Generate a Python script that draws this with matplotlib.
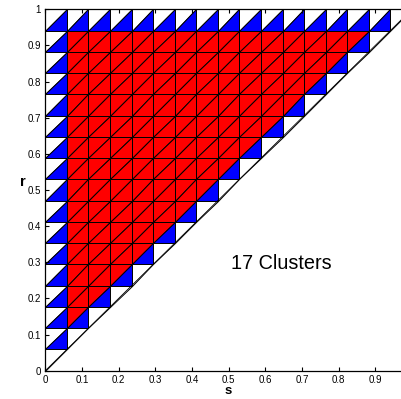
import numpy as np
import matplotlib.pyplot as plt
from matplotlib.collections import PolyCollection

plt.rcParams['font.family'] = ['Liberation Sans', 'DejaVu Sans']

n_cells = 17
# triangle colours per grid row, top row (r near 1) first.
# each word is one square cell: upper-left triangle, lower-right triangle;
# the last word sits on the diagonal r = s and only has its upper-left triangle
rows = [
    "WB WB WB WB WB WB WB WB WB WB WB WB WB WB WB WB W",
    "WB RR RR RR RR RR RR RR RR RR RR RR RR RR RB W",
    "WB RR RR RR RR RR RR RR RR RR RR RR RR RB W",
    "WB RR RR RR RR RR RR RR RR RR RR RR RB W",
    "WB RR RR RR RR RR RR RR RR RR RR RB W",
    "WB RR RR RR RR RR RR RR RR RR RB W",
    "WB RR RR RR RR RR RR RR RR RB W",
    "WB RR RR RR RR RR RR RR RB W",
    "WB RR RR RR RR RR RR RB W",
    "WB RR RR RR RR RR RB W",
    "WB RR RR RR RR RB W",
    "WB RR RR RR RB W",
    "WB RR RR RB W",
    "WB RR RB W",
    "WB RB W",
    "WB W",
    "W",
]
palette = {'W': 'white', 'B': '#0000ff', 'R': '#ff0000'}
xticks = [0, 0.1, 0.2, 0.3, 0.4, 0.5, 0.6, 0.7, 0.8, 0.9]
xticklabels = ['0', '0.1', '0.2', '0.3', '0.4', '0.5', '0.6', '0.7', '0.8', '0.9']
yticks = [0, 0.1, 0.2, 0.3, 0.4, 0.5, 0.6, 0.7, 0.8, 0.9, 1.0]
yticklabels = ['0', '0.1', '0.2', '0.3', '0.4', '0.5', '0.6', '0.7', '0.8', '0.9', '1']
note = '17 Clusters'

h = 1.0 / n_cells
verts, colors = [], []
for k, row in enumerate(rows):
    j = n_cells - 1 - k
    for i, cell in enumerate(row.split()):
        x0, x1, y0, y1 = i * h, (i + 1) * h, j * h, (j + 1) * h
        verts.append([(x0, y0), (x0, y1), (x1, y1)])
        colors.append(palette[cell[0]])
        if len(cell) > 1:
            verts.append([(x0, y0), (x1, y0), (x1, y1)])
            colors.append(palette[cell[1]])

fig = plt.figure(figsize=(4.02, 3.99), dpi=100)
# axes runs a bit past the right edge of the figure, like the cropped original
ax = fig.add_axes([0.1127, 0.0709, 0.912, 0.9058])
ax.add_collection(PolyCollection(verts, facecolors=colors, edgecolors='black', linewidths=0.7))
ax.plot([0, 1], [0, 1], color='black', lw=0.6)

ax.set_xlim(0, 1)
ax.set_ylim(0, 1)
ax.set_xticks(xticks)
ax.set_xticklabels(xticklabels)
ax.set_yticks(yticks)
ax.set_yticklabels(yticklabels)
ax.tick_params(direction='in', length=3, width=0.8, labelsize=7, pad=3,
               top=True, right=True)
for sp in ax.spines.values():
    sp.set_linewidth(0.9)

ax.set_xlabel('s', fontweight='bold', fontsize=9.5, va='center')
ax.set_ylabel('r', fontweight='bold', fontsize=10.5, rotation=0, va='center', ha='center')
ax.xaxis.set_label_coords(0.5, -0.057)
ax.yaxis.set_label_coords(-0.061, 0.522)

ax.text(0.506, 0.298, note, fontsize=14.3, ha='left', va='center')

fig.savefig('out.png', dpi=100)
